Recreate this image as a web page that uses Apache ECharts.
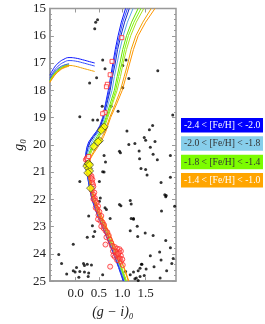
<!DOCTYPE html>
<html><head><meta charset="utf-8">
<script src="https://cdn.jsdelivr.net/npm/echarts@6/dist/echarts.min.js"></script>
<style>html,body{margin:0;padding:0;background:#fff}#c{width:265px;height:324px}</style>
</head><body><div id="c"></div>
<script>
// g0 grid shared by the RGB/SGB/MS isochrone tracks
const G = [15.0,15.5,16.0,16.5,17.0,17.5,18.0,18.5,19.0,19.3,19.5,19.7,19.9,20.1,20.3,20.5,20.7,21.0,21.5,22.0,22.5,23.0,23.5,24.0,24.5,25.0];
const ISO_BLUE1  = [1.07,0.98,0.91,0.85,0.80,0.75,0.70,0.64,0.58,0.52,0.45,0.36,0.28,0.24,0.22,0.21,0.22,0.24,0.29,0.35,0.45,0.57,0.69,0.81,0.92,1.02];
const ISO_BLUE2  = [1.11,1.01,0.94,0.87,0.82,0.77,0.72,0.65,0.59,0.53,0.46,0.37,0.30,0.25,0.23,0.22,0.22,0.24,0.29,0.35,0.45,0.58,0.70,0.82,0.93,1.03];
const ISO_BLUE3  = [1.15,1.05,0.97,0.90,0.85,0.79,0.74,0.67,0.60,0.54,0.48,0.39,0.31,0.27,0.24,0.22,0.23,0.25,0.30,0.36,0.46,0.58,0.70,0.82,0.94,1.04];
const ISO_SKY    = [1.23,1.11,1.02,0.95,0.89,0.83,0.78,0.70,0.62,0.56,0.50,0.42,0.35,0.30,0.26,0.24,0.24,0.25,0.31,0.37,0.47,0.59,0.72,0.84,0.95,1.05];
const ISO_GREEN1 = [1.34,1.20,1.09,1.01,0.95,0.89,0.83,0.74,0.65,0.59,0.53,0.46,0.39,0.34,0.29,0.26,0.25,0.26,0.32,0.38,0.48,0.61,0.73,0.86,0.97,1.07];
const ISO_GREEN2 = [1.40,1.25,1.13,1.05,0.99,0.92,0.86,0.77,0.67,0.61,0.55,0.49,0.42,0.36,0.31,0.27,0.26,0.27,0.32,0.39,0.49,0.62,0.74,0.87,0.98,1.08];
const ISO_GREEN3 = [1.46,1.30,1.18,1.09,1.02,0.96,0.89,0.79,0.69,0.63,0.57,0.51,0.44,0.38,0.33,0.28,0.26,0.27,0.33,0.39,0.50,0.63,0.75,0.88,0.99,1.09];
const ISO_ORANGE1= [1.62,1.44,1.29,1.19,1.12,1.04,0.96,0.85,0.73,0.67,0.63,0.57,0.51,0.44,0.37,0.31,0.28,0.28,0.34,0.41,0.52,0.65,0.78,0.91,1.03,1.13];
const ISO_ORANGE2= [1.70,1.50,1.34,1.24,1.16,1.08,1.00,0.88,0.75,0.69,0.65,0.60,0.54,0.47,0.39,0.32,0.29,0.29,0.35,0.42,0.53,0.66,0.79,0.92,1.04,1.14];

// horizontal branch tracks
const HB_X_LONG  = [-0.55,-0.45,-0.35,-0.25,-0.14,0.0,0.15,0.30,0.41];
const HB_X_SHORT = [-0.55,-0.45,-0.35,-0.25,-0.14];
const HB_BLUE1   = [17.45,17.15,16.97,16.86,16.80,16.82,16.88,16.95,17.00];
const HB_BLUE2   = [17.55,17.26,17.08,16.97,16.91,16.93,16.99,17.06,17.11];
const HB_BLUE3   = [17.60,17.33,17.17,17.08,17.03];
const HB_SKY     = [17.62,17.36,17.20,17.10,17.06];
const HB_GREEN1  = [17.64,17.38,17.22,17.12,17.07];
const HB_GREEN2  = [17.66,17.40,17.24,17.14,17.09];
const HB_GREEN3  = [17.68,17.42,17.26,17.16,17.11];
const HB_ORANGE1 = [17.70,17.44,17.27,17.15,17.09,17.12,17.19,17.26,17.31];
const HB_ORANGE2 = [17.72,17.46,17.29,17.18,17.12];

// field stars [g-i, g]
const FIELD = [[0.47,15.41],[0.43,15.50],[0.41,15.74],[0.58,16.89],[0.63,17.21],[0.30,17.73],[0.45,17.54],
[1.08,16.89],[1.01,17.09],[1.14,17.57],[1.01,17.91],[0.57,18.59],[0.76,18.59],[0.91,18.77],[0.09,18.97],[0.37,19.09],[0.47,19.09],
[1.10,19.49],[1.14,19.99],[1.27,19.95],[0.94,20.24],[0.96,20.29],[1.36,20.23],[1.37,20.51],[0.61,20.39],[0.64,20.63],
[1.76,17.28],[2.08,18.91],[1.65,19.29],[1.58,19.45],[1.47,19.73],[1.50,19.83],[1.70,19.88],[1.60,20.09],[1.66,20.35],[2.03,20.39],[1.75,20.55],
[1.40,20.87],[1.50,20.91],[1.53,21.11],[1.83,21.38],[2.03,21.19],[1.91,21.83],[1.93,21.91],[1.94,21.86],[2.12,22.25],[1.84,22.43],[1.24,22.70],[1.32,22.99],[1.49,23.24],[1.66,23.33],[1.33,23.36],[1.93,23.51],[2.03,23.78],[1.80,23.93],[1.60,24.07],[2.09,24.17],[1.83,24.23],[1.42,24.38],[2.06,24.35],[1.38,24.53],[1.51,24.56],[1.68,24.47],[1.95,24.62],[1.47,24.79],[1.38,24.83],[1.81,24.89],[1.27,24.91],[1.34,24.98],
[0.58,20.99],[0.61,21.00],[0.09,21.35],[0.51,21.35],[0.53,21.95],[0.51,22.07],[0.63,22.31],[0.66,22.37],[0.28,22.61],[0.74,22.70],[0.36,22.97],[0.41,23.18],[0.38,23.36],[0.25,23.39],[-0.05,23.65],
[1.19,22.70],[1.24,22.73],[1.17,23.15],[1.17,22.04],[1.19,22.17],[0.94,22.19],[0.97,22.24],
[-0.36,24.02],[-0.30,24.35],[-0.19,24.74],[-0.05,24.62],[-0.01,24.67],[0.02,24.50],[0.17,24.35],[0.19,24.43],[0.25,24.38],[0.34,24.41],[0.07,24.86],[0.19,24.67],[0.28,24.70],[0.27,24.83],[0.09,24.65],[0.58,24.77],[1.07,24.65],[1.04,24.89],[1.17,24.77],[1.24,24.67],[1.30,24.89],[1.41,24.38],[1.34,24.62]];

// MS members (red open circles)
const MS_MEMBERS = [[0.28,21.03],[0.34,21.15],[0.36,21.27],[0.35,21.38],[0.38,21.53],[0.35,21.67],[0.38,21.83],[0.41,21.95],[0.38,21.99],[0.45,22.13],[0.48,22.25],[0.43,22.31],[0.47,22.37],[0.51,22.46],[0.49,22.58],[0.55,22.61],[0.48,22.73],[0.53,22.79],[0.58,22.85],[0.61,22.94],[0.55,22.99],[0.60,23.06],[0.64,23.15],[0.68,23.21],[0.71,23.33],[0.66,23.39],[0.73,23.47],[0.64,23.66],[0.76,23.59],[0.78,23.71],[0.84,23.75],[0.89,23.81],[0.94,23.83],[0.97,23.90],[0.93,23.95],[0.88,24.02],[0.81,24.05],[0.84,24.11],[0.93,24.14],[0.97,24.07],[0.89,24.23],[0.74,24.47],[0.97,24.29],[1.01,24.41],
[0.30,21.08],[0.33,21.22],[0.37,21.45],[0.40,21.75],[0.42,22.05],[0.86,23.92],[0.91,24.00],[0.95,24.18],[0.80,23.90],[1.00,24.20],[0.22,20.55],[0.24,20.49],[0.26,20.60]];

// RGB members (red open squares)
const RGB_MEMBERS = [[0.99,16.07],[0.78,16.94],[0.74,17.43],[0.68,17.78],[0.66,17.87],[0.63,18.81],[0.58,18.86],[0.25,20.51],[0.28,20.43]];

// SGB / turnoff members (yellow)
const SGB_MEMBERS = [[0.58,19.40],[0.61,19.34],[0.55,19.47],[0.51,19.85],[0.48,19.89],[0.39,20.06],[0.26,20.71],[0.24,20.78],[0.28,20.87],[0.30,20.96],[0.26,21.03],[0.32,21.59],[0.28,20.69],[0.30,20.74]];

const X_TICKS = [0.0,0.5,1.0,1.5];
const LEGEND_LABELS = ['-2.4 < [Fe/H] < -2.0','-2.0 < [Fe/H] < -1.8','-1.8 < [Fe/H] < -1.4','-1.4 < [Fe/H] < -1.0'];
const LEGEND_COLORS = ['#0000ff','#87ceeb','#7cfc00','#ffa500'];
const LEGEND_TEXT   = ['#ffffff','#333333','#333333','#ffffff'];

const ISOS = [
 {x:ISO_BLUE1, hb:HB_BLUE1, hx:HB_X_LONG, c:'#0a14ff'},
 {x:ISO_BLUE2, hb:HB_BLUE2, hx:HB_X_LONG, c:'#2f4bff'},
 {x:ISO_BLUE3, hb:HB_BLUE3, hx:HB_X_SHORT, c:'#1628c8'},
 {x:ISO_SKY, hb:HB_SKY, hx:HB_X_SHORT, c:'#5aa8e8'},
 {x:ISO_GREEN1, hb:HB_GREEN1, hx:HB_X_SHORT, c:'#66e000'},
 {x:ISO_GREEN2, hb:HB_GREEN2, hx:HB_X_SHORT, c:'#7cfc00'},
 {x:ISO_GREEN3, hb:HB_GREEN3, hx:HB_X_SHORT, c:'#a8e020'},
 {x:ISO_ORANGE1, hb:HB_ORANGE1, hx:HB_X_LONG, c:'#f0a000'},
 {x:ISO_ORANGE2, hb:HB_ORANGE2, hx:HB_X_SHORT, c:'#ff9500'}
];

const series = [];
series.push({type:'scatter', data:FIELD, symbolSize:3, itemStyle:{color:'#000'}, z:2});
ISOS.forEach(function(s){
  series.push({type:'line', data:G.map(function(g,i){return [s.x[i], g];}), showSymbol:false, lineStyle:{color:s.c, width:1}, z:3, silent:true});
  series.push({type:'line', data:s.hx.map(function(x,i){return [x, s.hb[i]];}), showSymbol:false, smooth:true, lineStyle:{color:s.c, width:1}, z:3, silent:true});
});
series.push({type:'scatter', data:MS_MEMBERS, symbol:'circle', symbolSize:5, itemStyle:{color:'rgba(255,150,150,0.25)', borderColor:'#ff2a2a', borderWidth:1}, z:4});
series.push({type:'scatter', data:RGB_MEMBERS, symbol:'rect', symbolSize:4, itemStyle:{color:'#fff', borderColor:'#ff2a2a', borderWidth:1}, z:4});
series.push({type:'scatter', data:SGB_MEMBERS, symbol:'diamond', symbolSize:8, itemStyle:{color:'#ffff00', borderColor:'#333', borderWidth:0.8}, z:5});

const graphic = [];
LEGEND_LABELS.forEach(function(t,i){
  graphic.push({type:'rect', left:181, top:118+18.35*i, shape:{width:82, height:14.5}, style:{fill:LEGEND_COLORS[i]}});
  graphic.push({type:'text', left:184, top:118+18.35*i+2.5, style:{text:t, fill:LEGEND_TEXT[i], fontFamily:'Liberation Serif', fontSize:9.6}});
});

const axisFont = {fontFamily:'Liberation Serif', fontSize:13, color:'#222'};
const chart = echarts.init(document.getElementById('c'), null, {renderer:'canvas'});
chart.setOption({
  animation:false,
  grid:{left:39, right:89, top:8.5, bottom:37, show:true, borderColor:'#999', borderWidth:1.5, backgroundColor:'transparent'},
  xAxis:[{type:'value', min:-0.55, max:2.15, position:'bottom',
    axisLine:{show:true, onZero:false, lineStyle:{color:'#999', width:1.5}},
    axisTick:{show:true, inside:true, length:4, customValues:X_TICKS, lineStyle:{color:'#999'}},
    axisLabel:Object.assign({customValues:X_TICKS, margin:6, formatter:function(v){return v.toFixed(1);}}, axisFont),
    splitLine:{show:false},
    name:'(g − i)₀', nameLocation:'middle', nameGap:20,
    nameTextStyle:{fontFamily:'Liberation Serif', fontStyle:'italic', fontSize:14, color:'#222'}},
   {type:'value', min:-0.55, max:2.15, position:'top',
    axisLine:{show:false, onZero:false}, axisTick:{show:true, inside:true, length:4, customValues:X_TICKS, lineStyle:{color:'#999'}},
    axisLabel:{show:false}, splitLine:{show:false}}],
  yAxis:[{type:'value', inverse:true, min:15, max:25, interval:1, position:'left',
    axisLine:{show:true, onZero:false, lineStyle:{color:'#999', width:1.5}},
    axisTick:{show:true, inside:true, length:4, lineStyle:{color:'#999'}},
    minorTick:{show:true, splitNumber:5, length:2, lineStyle:{color:'#999'}},
    axisLabel:Object.assign({margin:4}, axisFont),
    splitLine:{show:false},
    name:'g₀', nameLocation:'middle', nameGap:24, nameRotate:90,
    nameTextStyle:{fontFamily:'Liberation Serif', fontStyle:'italic', fontSize:14, color:'#222'}},
   {type:'value', inverse:true, min:15, max:25, interval:1, position:'right',
    axisLine:{show:false, onZero:false}, axisTick:{show:true, inside:true, length:4, lineStyle:{color:'#999'}},
    minorTick:{show:true, splitNumber:5, length:2, lineStyle:{color:'#999'}},
    axisLabel:{show:false}, splitLine:{show:false}}],
  series:series,
  graphic:graphic
});
</script></body></html>
